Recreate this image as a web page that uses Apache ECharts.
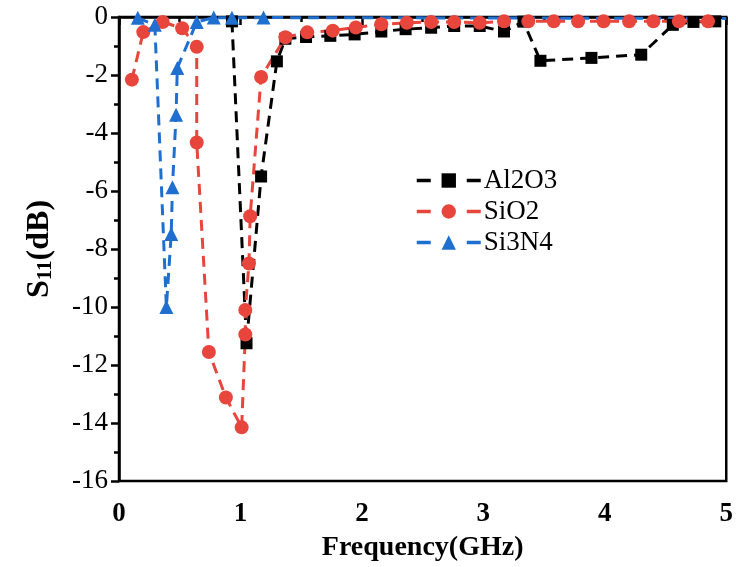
<!DOCTYPE html>
<html><head><meta charset="utf-8">
<script src="https://cdn.jsdelivr.net/npm/echarts@6/dist/echarts.min.js"></script>
<style>html,body{margin:0;padding:0;background:#fff}#c{width:736px;height:567px}</style>
</head><body><div id="c"></div>
<script>
const al2o3X = [0.93,1.05,1.17,1.30,1.37,1.54,1.74,1.94,2.16,2.36,2.57,2.76,2.97,3.17,3.33,3.47,3.89,4.30,4.56,4.73,4.91];
const al2o3Y = [-0.15,-11.25,-5.5,-1.53,-0.75,-0.69,-0.65,-0.6,-0.5,-0.42,-0.37,-0.31,-0.31,-0.5,-0.16,-1.51,-1.41,-1.3,-0.27,-0.17,-0.15];
const sio2X = [0.106,0.2,0.36,0.52,0.64,0.64,0.74,0.88,1.01,1.04,1.04,1.07,1.08,1.17,1.37,1.55,1.76,1.95,2.16,2.37,2.57,2.76,2.97,3.17,3.37,3.58,3.78,3.99,4.2,4.4,4.61,4.85];
const sio2Y = [-2.16,-0.52,-0.17,-0.39,-1.03,-4.33,-11.55,-13.12,-14.15,-10.95,-10.1,-8.5,-6.87,-2.07,-0.7,-0.53,-0.47,-0.36,-0.25,-0.2,-0.17,-0.17,-0.2,-0.15,-0.15,-0.15,-0.15,-0.15,-0.15,-0.15,-0.15,-0.15];
const si3n4X = [0.155,0.295,0.39,0.43,0.44,0.47,0.48,0.64,0.78,0.93,1.19,5.0];
const si3n4Y = [-0.03,-0.27,-10.0,-7.48,-5.87,-3.37,-1.76,-0.17,-0.02,-0.03,-0.02,-0.05];
const names = ['Al2O3','SiO2','Si3N4'];
const xTicks = [0,1,2,3,4,5];
const yTicks = [-16,-14,-12,-10,-8,-6,-4,-2,0];

const zip = (xs, ys) => xs.map((x, i) => [x, ys[i]]);
const font = 'Liberation Serif';
const chart = echarts.init(document.getElementById('c'));
const mk = (name, data, color, symbol, size, hideLast) => ({
  name, type: 'line', data, symbol,
  symbolSize: hideLast ? ((v, p) => p.dataIndex === data.length - 1 ? 0 : size) : size,
  itemStyle: { color },
  lineStyle: { color, width: 3, type: [11, 7] },
  z: 3
});
chart.setOption({
  animation: false,
  grid: { left: 119, right: 5, top: 17, bottom: 84, show: true, borderColor: '#000', borderWidth: 2.5 },
  legend: {
    left: 410, top: 162, orient: 'vertical', itemWidth: 64, itemHeight: 18, itemGap: 4,
    textStyle: { fontFamily: font, fontSize: 27, color: '#000', padding: [0, 0, 0, -2] },
    lineStyle: { width: 3.5, type: [14, 36] },
    data: names
  },
  xAxis: {
    type: 'value', min: 0, max: 5, interval: 1,
    name: 'Frequency(GHz)', nameLocation: 'middle', nameGap: 53,
    nameTextStyle: { fontFamily: font, fontSize: 28, fontWeight: 'bold', color: '#000' },
    axisLine: { lineStyle: { color: '#000', width: 2.5 } },
    axisTick: { inside: false, length: 8, lineStyle: { width: 2.5 } },
    minorTick: { show: true, splitNumber: 2, length: 5, lineStyle: { color: '#000', width: 2.5 } },
    axisLabel: { fontFamily: font, fontSize: 27, fontWeight: 'bold', color: '#000', margin: 20,
      formatter: v => xTicks.includes(v) ? String(v) : '' },
    splitLine: { show: false }
  },
  yAxis: {
    type: 'value', min: -16, max: 0, interval: 2,
    name: '{a|S}{b|11}{a|(dB)}', nameLocation: 'middle', nameGap: 63,
    nameTextStyle: { fontFamily: font, fontWeight: 'bold', color: '#000',
      rich: { a: { fontFamily: font, fontSize: 32, fontWeight: 'bold' }, b: { fontFamily: font, fontSize: 21, fontWeight: 'bold', verticalAlign: 'bottom', padding: [12, 0, 0, 0] } } },
    axisLine: { lineStyle: { color: '#000', width: 2.5 } },
    axisTick: { inside: false, length: 8, lineStyle: { width: 2.5 } },
    minorTick: { show: true, splitNumber: 2, length: 5, lineStyle: { color: '#000', width: 2.5 } },
    axisLabel: { fontFamily: font, fontSize: 27, color: '#000', margin: 11,
      formatter: v => yTicks.includes(v) ? String(v) : '' },
    splitLine: { show: false }
  },
  series: [
    mk(names[0], zip(al2o3X, al2o3Y), '#000000', 'rect', 12, false),
    mk(names[1], zip(sio2X, sio2Y), '#e8453c', 'circle', 14, false),
    mk(names[2], zip(si3n4X, si3n4Y), '#1f6fd1', 'triangle', 14, true)
  ]
});
</script></body></html>
